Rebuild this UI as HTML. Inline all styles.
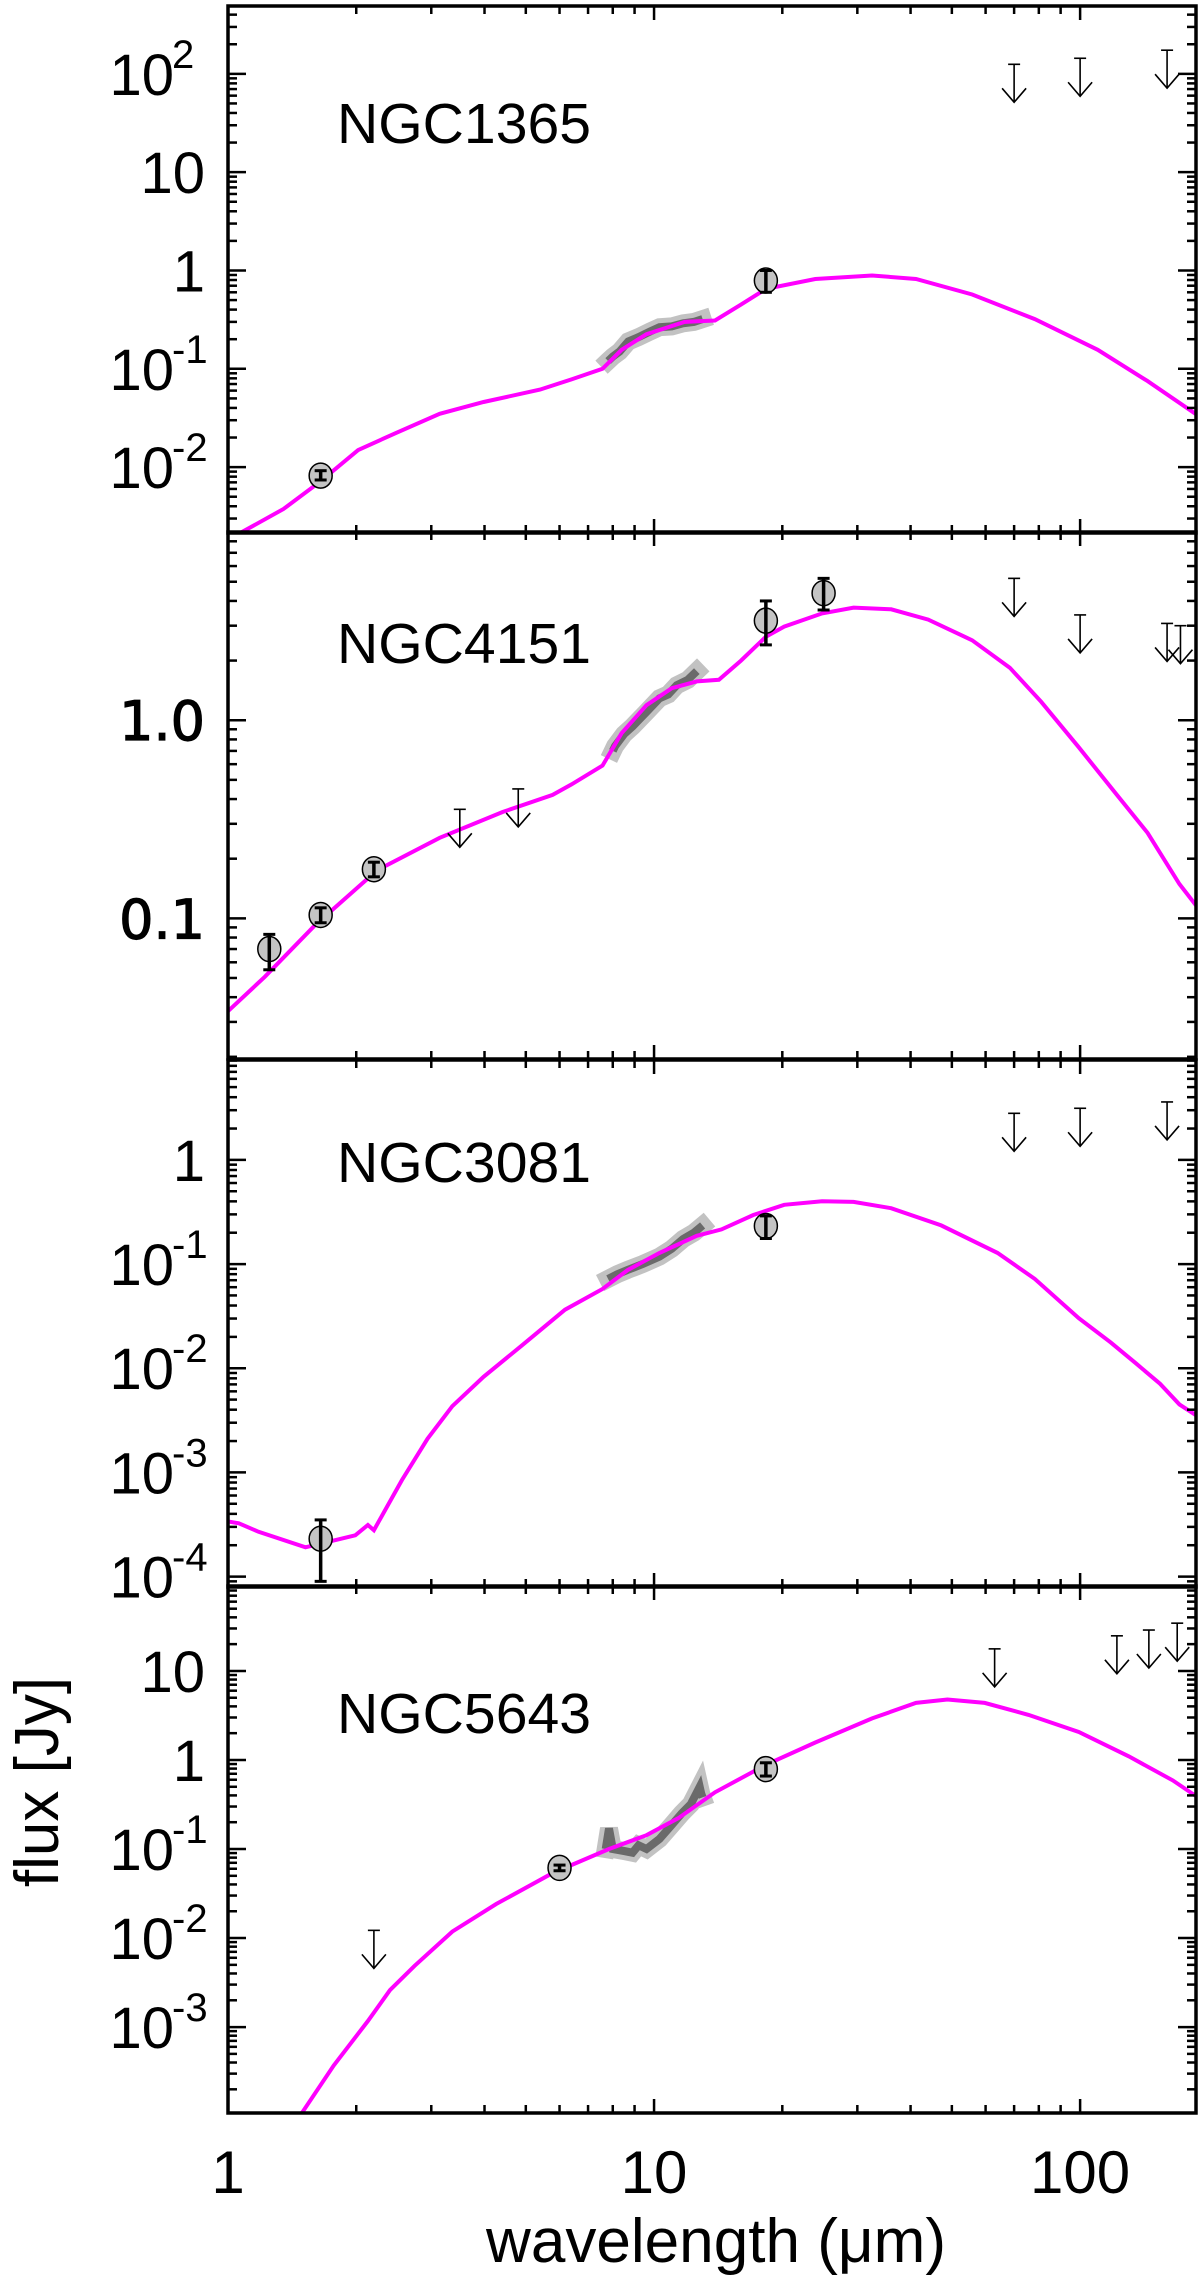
<!DOCTYPE html>
<html><head><meta charset="utf-8"><title>SED fits</title>
<style>
html,body{margin:0;padding:0;background:#fff;}
svg{display:block;font-family:"Liberation Sans",Arial,sans-serif;}
</style></head>
<body>
<svg id="fig" width="1200" height="2280" viewBox="0 0 1200 2280" xmlns="http://www.w3.org/2000/svg">
<text x="716" y="2262" font-size="62" text-anchor="middle" textLength="460" lengthAdjust="spacingAndGlyphs">wavelength (μm)</text>
<text transform="translate(58,1782) rotate(-90)" font-size="62" text-anchor="middle">flux [Jy]</text>
</svg>
<script>
// ---- data (wavelength in micron, flux in Jy) ----
const panelNames = ["NGC1365","NGC4151","NGC3081","NGC5643"];
const yRanges = [[-2.67,2.69],[-1.71,0.95],[-4.1,0.959],[-3.965,1.954]];
const yTickLabels = [
  [[2,"10","2"],[1,"10",""],[0,"1",""],[-1,"10","-1"],[-2,"10","-2"]],
  [[0,"1.0",""],[-1,"0.1",""]],
  [[0,"1",""],[-1,"10","-1"],[-2,"10","-2"],[-3,"10","-3"],[-4,"10","-4"]],
  [[1,"10",""],[0,"1",""],[-1,"10","-1"],[-2,"10","-2"],[-3,"10","-3"]]
];
const xTickLabels = [[1,"1"],[10,"10"],[100,"100"]];

const modelLam1 = [1.0,1.06,1.35,1.65,2.02,2.48,3.14,3.98,5.4,6.4,7.57,8.39,9.6,11.8,13.9,16,18.3,23.9,32.5,41.2,55.8,78.3,110,144,189];
const modelFlux1 = [0.0019,0.0021,0.00375,0.0072,0.0149,0.0223,0.0349,0.046,0.0615,0.078,0.1,0.156,0.225,0.30,0.31,0.45,0.65,0.82,0.89,0.82,0.57,0.32,0.156,0.075,0.0335];
const modelLam2 = [1.0,1.22,1.6,2.24,3.14,4.41,5.78,6.4,7.57,8.39,9.6,11,12.6,14.2,16,18.3,20.2,24.8,29.4,36,44,55.8,68.4,81,99,122,144,171,189];
const modelFlux2 = [0.034,0.0507,0.0923,0.175,0.255,0.344,0.42,0.474,0.59,0.86,1.19,1.45,1.57,1.6,2.0,2.64,2.97,3.46,3.7,3.63,3.22,2.53,1.84,1.24,0.735,0.42,0.27,0.149,0.113];
const modelLam3 = [1.0,1.06,1.18,1.52,1.99,2.13,2.2,2.56,2.94,3.36,3.98,4.88,6.18,7.57,8.67,10.3,12.6,14.4,17.1,20.2,24.8,29.4,36,47.2,64,78.3,99.3,118,135,154,171,189];
const modelFlux3 = [3.38e-4,3.25e-4,2.69e-4,1.91e-4,2.49e-4,3.13e-4,2.79e-4,8.43e-4,2.1e-3,4.32e-3,8.27e-3,0.0164,0.0365,0.0576,0.0875,0.128,0.187,0.215,0.296,0.371,0.401,0.395,0.344,0.235,0.128,0.072,0.0302,0.0177,0.0112,7.1e-3,4.5e-3,3.44e-3];
const modelLam4 = [1.49,1.77,2.13,2.4,2.74,3.36,4.26,5.78,7.84,9.6,11.4,13.9,18.3,23.9,32.5,41.2,48.8,59.7,75.7,99.3,130,165,189];
const modelFlux4 = [1.08e-4,3.7e-4,1.17e-3,2.6e-3,4.86e-3,0.0118,0.0241,0.0537,0.1,0.143,0.222,0.433,0.883,1.57,2.93,4.37,4.78,4.37,3.21,2.06,1.1,0.59,0.38];

const specLam1 = [7.8,8.0,8.3,8.7,9.2,9.8,10.3,11,11.7,12.4,13];
const specFlux1 = [0.12,0.133,0.15,0.19,0.21,0.24,0.265,0.27,0.29,0.30,0.32];
const specLam2 = [8.0,8.1,8.5,8.9,9.6,10.3,10.8,11.3,12,12.6];
const specFlux2 = [0.7,0.74,0.85,0.93,1.1,1.29,1.35,1.5,1.6,1.77];
const specLam3 = [7.8,8.2,8.67,9.4,10.3,11,11.7,12.4,13];
const specFlux3 = [0.072,0.08,0.088,0.1,0.118,0.14,0.174,0.2,0.235];
const specLam4 = [7.7,7.84,8.0,8.5,8.9,9.2,9.6,10.3,11,11.6,12.2,12.8,12.9,13];
const specFlux4 = [0.1,0.17,0.1,0.095,0.091,0.11,0.1,0.13,0.186,0.25,0.32,0.5,0.42,0.38];

// photometric points: lam, flux, errLow, errHigh
const photLam1 = [1.65,18.3];   const photFlux1 = [0.0082,0.79]; const photLo1 = [0.0074,0.6]; const photHi1 = [0.0092,1.0];
const photLam2 = [1.25,1.65,2.2,18.3,25]; const photFlux2 = [0.07,0.104,0.177,3.18,4.38];
const photLo2 = [0.055,0.095,0.162,2.4,3.6]; const photHi2 = [0.083,0.113,0.192,4.0,5.2];
const photLam3 = [1.65,18.3]; const photFlux3 = [2.31e-4,0.232]; const photLo3 = [9e-5,0.176]; const photHi3 = [3.5e-4,0.29];
const photLam4 = [6.0,18.3]; const photFlux4 = [0.0614,0.79]; const photLo4 = [0.057,0.66]; const photHi4 = [0.066,0.93];

// upper limits
const ulLam1 = [70,100,160]; const ulFlux1 = [125,144,174];
const ulLam2 = [3.5,4.8,70,100,160,172]; const ulFlux2 = [0.355,0.45,5.2,3.4,3.08,3.0];
const ulLam3 = [70,100,160]; const ulFlux3 = [2.8,3.13,3.6];
const ulLam4 = [2.2,63,122,145,169]; const ulFlux4 = [0.0122,17.7,24.8,28.8,34.4];

const models = [[modelLam1,modelFlux1],[modelLam2,modelFlux2],[modelLam3,modelFlux3],[modelLam4,modelFlux4]];
const specs = [[specLam1,specFlux1],[specLam2,specFlux2],[specLam3,specFlux3],[specLam4,specFlux4]];
const phots = [[photLam1,photFlux1,photLo1,photHi1],[photLam2,photFlux2,photLo2,photHi2],[photLam3,photFlux3,photLo3,photHi3],[photLam4,photFlux4,photLo4,photHi4]];
const uls = [[ulLam1,ulFlux1],[ulLam2,ulFlux2],[ulLam3,ulFlux3],[ulLam4,ulFlux4]];

// ---- layout ----
const NS = "http://www.w3.org/2000/svg";
const svg = document.getElementById("fig");
const X0 = 228, X1 = 1196, XMAXLOG = 2.272;
const panelTops = [6, 532, 1060, 1586];
const PH = 527;
const labelY = [143, 663, 1182, 1733];
function xs(l){ return X0 + Math.log10(l) / XMAXLOG * (X1 - X0); }
function ysF(p){ const t = panelTops[p], r = yRanges[p];
  return function(f){ return t + (r[1] - Math.log10(f)) / (r[1] - r[0]) * PH; }; }
function mk(tag, attrs, parent){ const e = document.createElementNS(NS, tag);
  for (const k in attrs) e.setAttribute(k, attrs[k]); (parent || svg).appendChild(e); return e; }

for (let p = 0; p < 4; p++) {
  const ys = ysF(p), top = panelTops[p], bot = top + PH, r = yRanges[p];
  const g = mk("g", {});
  
  
  const clipId = "clip" + p;
  const cp = mk("clipPath", {id: clipId}, g);
  mk("rect", {x: X0, y: top, width: X1 - X0, height: PH}, cp);

  // spectrum
  const sp = specs[p];
  let sd = sp[0].map((l, i) => (i ? "L" : "M") + xs(l).toFixed(1) + "," + ys(sp[1][i]).toFixed(1)).join("");
  const sb = mk("path", {d: sd, fill: "none", stroke: "#c2c2c2", "stroke-width": 18, "stroke-linejoin": "miter", "stroke-linecap": "square"}, g);
  
  
  const sl = mk("path", {d: sd, fill: "none", stroke: "#6a6a6a", "stroke-width": 8, "stroke-linejoin": "miter"}, g);
  
  

  // model curve
  const m = models[p];
  let md = m[0].map((l, i) => (i ? "L" : "M") + xs(l).toFixed(1) + "," + ys(m[1][i]).toFixed(1)).join("");
  const mc = mk("path", {d: md, fill: "none", stroke: "#ff00ff", "stroke-width": 4, "clip-path": "url(#" + clipId + ")"}, g);
  
  

  // photometry points
  const ph = phots[p];
  for (let i = 0; i < ph[0].length; i++) {
    const x = xs(ph[0][i]);
    const pg = mk("g", {}, g);
    
    
    mk("ellipse", {cx: x, cy: ys(ph[1][i]), rx: 11.5, ry: 12.5, fill: "#c4c4c4", stroke: "#000", "stroke-width": 1.5}, pg);
    const y1 = ys(ph[3][i]), y2 = ys(ph[2][i]);
    mk("line", {x1: x, x2: x, y1: y1, y2: y2, stroke: "#000", "stroke-width": 3.5}, pg);
    mk("line", {x1: x - 6, x2: x + 6, y1: y1, y2: y1, stroke: "#000", "stroke-width": 3}, pg);
    mk("line", {x1: x - 6, x2: x + 6, y1: y2, y2: y2, stroke: "#000", "stroke-width": 3}, pg);
  }

  // upper limits
  const ul = uls[p];
  for (let i = 0; i < ul[0].length; i++) {
    const x = xs(ul[0][i]), y = ys(ul[1][i]);
    const ag = mk("g", {fill: "none", stroke: "#000", "stroke-width": 1.6}, g);
    
    
    mk("line", {x1: x - 6, x2: x + 6, y1: y, y2: y}, ag);
    mk("line", {x1: x, x2: x, y1: y, y2: y + 38}, ag);
    mk("polyline", {points: (x - 12) + "," + (y + 24) + " " + x + "," + (y + 38) + " " + (x + 12) + "," + (y + 24)}, ag);
  }

  // frame
  const fr = mk("rect", {x: X0, y: top, width: X1 - X0, height: PH, fill: "none", stroke: "#000", "stroke-width": 3.5}, g);
  
  

  // x ticks
  for (let d = 0; d < 3; d++) for (let k = 1; k < 10; k++) {
    const l = k * Math.pow(10, d); if (Math.log10(l) > XMAXLOG || l === 1) continue;
    const x = xs(l), len = k === 1 ? 14 : 8;
    mk("line", {x1: x, x2: x, y1: bot, y2: bot - len, stroke: "#000", "stroke-width": 2.5}, g);
    mk("line", {x1: x, x2: x, y1: top, y2: top + len, stroke: "#000", "stroke-width": 2.5}, g);
  }
  // y ticks
  for (let d = Math.floor(r[0]); d <= Math.ceil(r[1]); d++) for (let k = 1; k < 10; k++) {
    const lv = d + Math.log10(k); if (lv < r[0] || lv > r[1]) continue;
    const y = ys(Math.pow(10, lv)), len = k === 1 ? 18 : 9;
    mk("line", {x1: X0, x2: X0 + len, y1: y, y2: y, stroke: "#000", "stroke-width": 2.5}, g);
    mk("line", {x1: X1, x2: X1 - len, y1: y, y2: y, stroke: "#000", "stroke-width": 2.5}, g);
  }
  // y tick labels
  yTickLabels[p].forEach(t => {
    const y = ys(Math.pow(10, t[0]));
    const tx = mk("text", {x: 205, y: y + 21, "font-size": 58, "text-anchor": "end"}, g);
    
    
    if (p === 1) { tx.setAttribute("font-family", "DejaVu Sans, sans-serif"); tx.setAttribute("font-size", 54); tx.setAttribute("stroke", "#000"); tx.setAttribute("stroke-width", "1.2"); tx.setAttribute("y", y + 20); }
    if (t[2]) {
      tx.setAttribute("x", 174);
      tx.textContent = t[1];
      const sup = mk("text", {x: 172, y: y - 6, "font-size": 40, "text-anchor": "start"}, g);
      
      
      sup.textContent = t[2];
    } else tx.textContent = t[1];
  });
  // panel label
  const pl = mk("text", {x: 337, y: labelY[p], "font-size": 57, textLength: 254, lengthAdjust: "spacingAndGlyphs"}, g);
  
  
  pl.textContent = panelNames[p];
}
// x tick labels
xTickLabels.forEach(t => {
  const tx = mk("text", {x: xs(t[0]), y: 2193, "font-size": 60, "text-anchor": "middle"});
  
  
  tx.textContent = t[1];
});
</script>
</body></html>
